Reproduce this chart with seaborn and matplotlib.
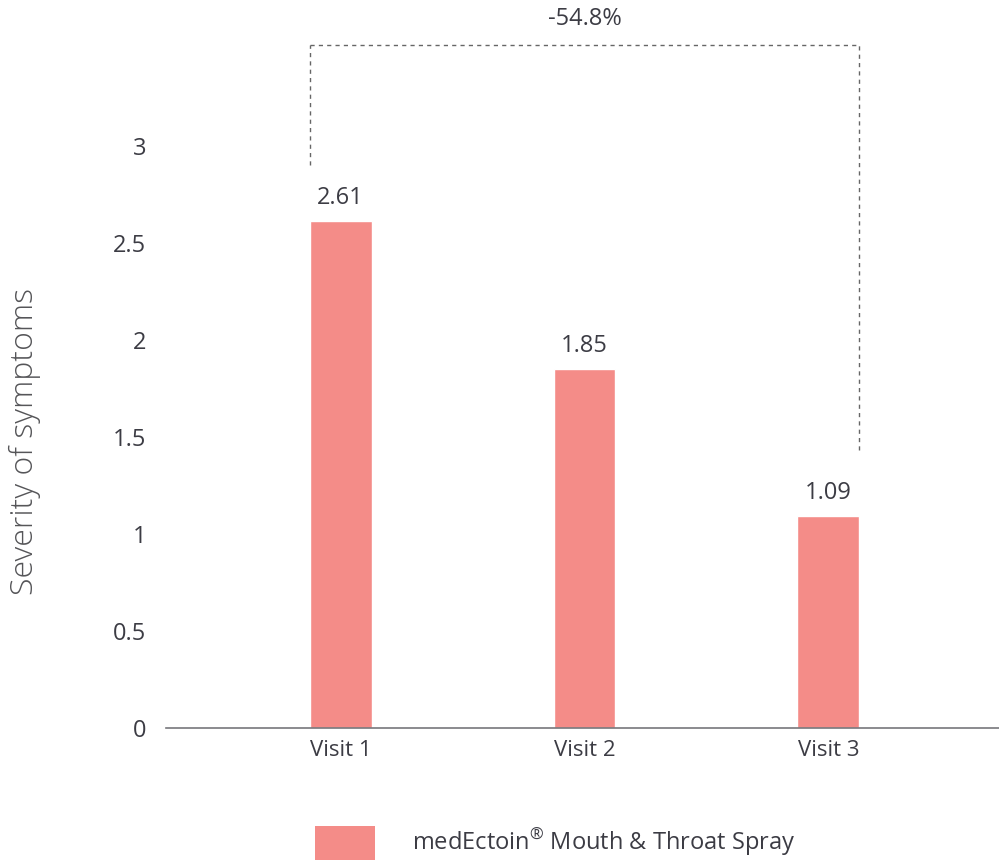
import matplotlib
matplotlib.use("Agg")
import matplotlib.pyplot as plt
import seaborn as sns
import pandas as pd
from matplotlib.patches import Patch

visits = ["Visit 1", "Visit 2", "Visit 3"]
severity = [2.61, 1.85, 1.09]
value_labels = ["2.61", "1.85", "1.09"]
y_ticks = [0, 0.5, 1, 1.5, 2, 2.5, 3]
y_ticklabels = ["0", "0.5", "1", "1.5", "2", "2.5", "3"]
change_label = "-54.8%"
series_name = r"medEctoin$^{\mathrm{®}}$ Mouth & Throat Spray"

bar_color = "#f48c88"
text_color = "#3c3c44"

sns.set_style("white")
plt.rcParams["font.family"] = ["Open Sans", "DejaVu Sans"]
plt.rcParams["mathtext.fontset"] = "custom"
plt.rcParams["mathtext.rm"] = "Open Sans"

df = pd.DataFrame({"visit": visits, "severity": severity})

fig = plt.figure(figsize=(9.99, 8.61), dpi=100)
ax = fig.add_axes([0.166, 0.1545, 0.834, 0.8455])

sns.barplot(data=df, x="visit", y="severity", color=bar_color, saturation=1,
            width=0.254, ax=ax)

ax.set_xlim(-0.717, 2.70)
ax.set_ylim(0, 3.75)
ax.set_yticks(y_ticks)
ax.set_yticklabels(y_ticklabels)
ax.tick_params(axis="y", length=0, pad=14, labelsize=17, labelcolor=text_color)
ax.tick_params(axis="x", length=0, pad=9, labelsize=16, labelcolor=text_color)
ax.set_xlabel("")
ax.set_ylabel("Severity of symptoms", fontsize=23, color="#555558",
              fontweight="light", labelpad=52, y=0.393)

sns.despine(ax=ax, left=True)
ax.spines["bottom"].set_color("#77777c")
ax.spines["bottom"].set_linewidth(1.2)

ax.bar_label(ax.containers[0], labels=value_labels, padding=8,
             fontsize=17, color=text_color)

# bracket showing change from visit 1 to visit 3
w = 0.254 / 2
left_x = 0 - w
right_x = 2 + w
top_y = 3.52
dash = dict(color="#666666", lw=1, ls=(0, (3, 3)), clip_on=False)
ax.plot([left_x, left_x], [2.90, top_y], **dash)
ax.plot([left_x, right_x], [top_y, top_y], **dash)
ax.plot([right_x, right_x], [1.43, top_y], **dash)
ax.text((left_x + right_x) / 2, 3.65, change_label, ha="center", va="center",
        fontsize=17, color=text_color)

handle = Patch(facecolor=bar_color, edgecolor="none")
fig.legend([handle], [series_name], loc="lower center",
           bbox_to_anchor=(0.556, 0.0), frameon=False, fontsize=17,
           handlelength=2.54, handleheight=1.85, handletextpad=1.57,
           borderpad=0.05, borderaxespad=0, labelcolor=text_color)

plt.savefig("out.png", dpi=100)
